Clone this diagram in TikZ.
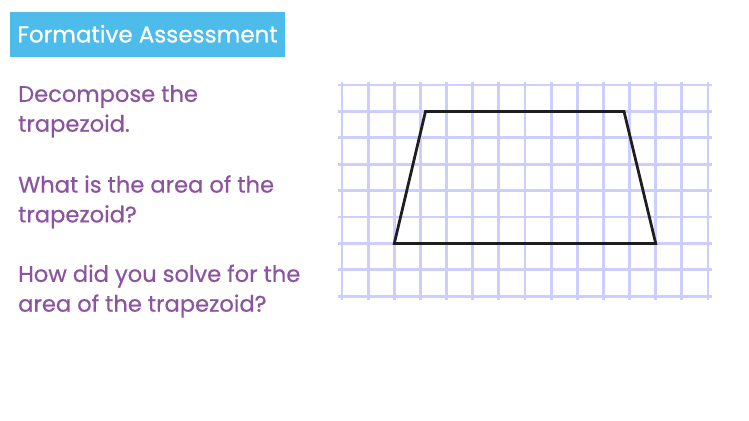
\documentclass[tikz,border=0pt]{standalone}
\usepackage{fontspec}
\setmainfont{Poppins}[FakeBold=0.6]
\usepackage{tikz}
\definecolor{titleblue}{RGB}{77,188,235}
\definecolor{askpurple}{RGB}{140,84,160}
\definecolor{gridlilac}{RGB}{205,205,255}
\definecolor{shapeline}{RGB}{30,30,30}
\tikzset{
    question/.style={anchor=base west, inner sep=0pt, align=left, text=askpurple,
        font=\fontsize{22.6}{29.8}\selectfont},
    paper/.style={line width=2.8pt, gridlilac},
}

\begin{document}
\begin{tikzpicture}[x=1pt, y=-1pt]
        % page
        \useasboundingbox (0,0) rectangle (749,420);
        
        % heading
        \node[fill=titleblue, text=white, minimum width=275pt, minimum height=45pt,
              inner sep=0pt, text height=16pt, text depth=0pt,
              font=\fontsize{23}{27}\selectfont] (title) at (147.5,34.5) {Formative Assessment};
        
        % questions (anchored on the last line)
        \node[question] (decompose) at (18,131.7) {Decompose the\\trapezoid.};
        \node[question] (area) at (18,222.4) {What is the area of the\\trapezoid?};
        \node[question] (how) at (18,311.7) {How did you solve for the\\area of the trapezoid?};
        
        % grid paper
        \foreach \i in {0,...,14}
            \draw[paper] (342+26.14*\i,82) -- (342+26.14*\i,300);
        \foreach \j in {0,...,8}
            \draw[paper] (338,85+26.4*\j) -- (712,85+26.4*\j);
        
        % corners
        \coordinate (bl) at (394.3,243.4);
        \coordinate (br) at (655.7,243.4);
        \coordinate (tr) at (624,111.4);
        \coordinate (tl) at (425.5,111.4);
        
        % trapezoid
        \draw[line width=2.8pt, shapeline] (bl) -- (br) -- (tr) -- (tl) -- cycle;
\end{tikzpicture}
\end{document}
